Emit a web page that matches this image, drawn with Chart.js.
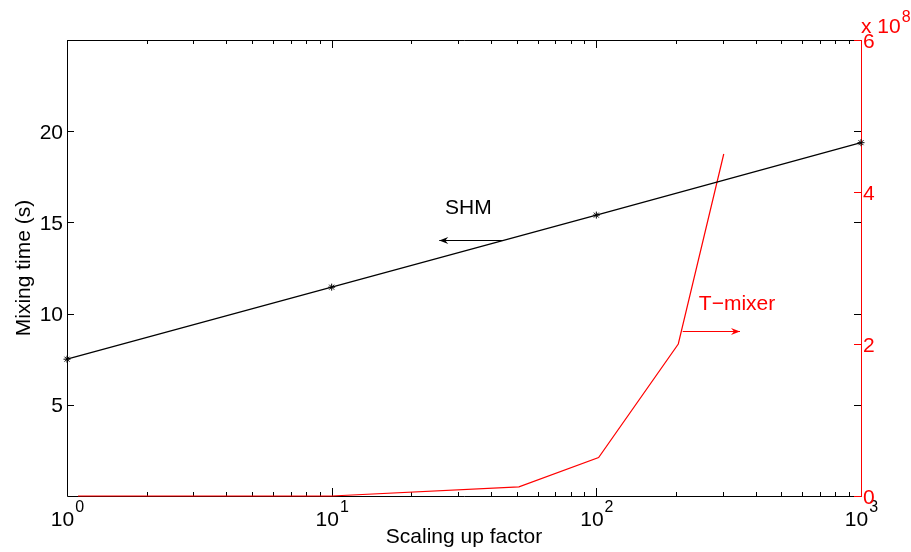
<!DOCTYPE html>
<html><head><meta charset="utf-8">
<script src="https://cdn.jsdelivr.net/npm/chart.js@4/dist/chart.umd.min.js"></script>
<style>html,body{margin:0;padding:0;background:#fff}#wrap{width:911px;height:552px;position:relative}</style>
</head><body><div id="wrap"><canvas id="c" width="911" height="552"></canvas></div>
<script>
// ---- data ----
const xTicks = [1, 10, 100, 1000];
const xTickExp = ['0', '1', '2', '3'];
const leftTicks = [5, 10, 15, 20];
const rightTicks = [0, 2e8, 4e8, 6e8];
const rightExp = '8';
const shmX = [1, 10, 100, 1000];
const shmY = [7.5, 11.45, 15.4, 19.37];
const tmixX = [1.1, 10, 51, 102, 204, 303];
const tmixY = [0, 0, 0.12e8, 0.505e8, 2.0e8, 4.5e8];
const xTitle = 'Scaling up factor';
const yTitle = 'Mixing time (s)';
const shmLabel = 'SHM';
const tmixLabel = 'T\u2212mixer';
// annotation anchors in data units
const shmText = {x: 26.8, y: 15.48};
const shmArrow = {x0: 44.4, x1: 25.5, y: 14.06};
const tmixText = {x: 244, y: 2.45e8};
const tmixArrow = {x0: 212, x1: 349, y: 2.17e8};

const FONT = '"Liberation Sans", Arial, Helvetica, sans-serif';
const RED = '#ff0000';

function arrow(ctx, x0, x1, y, color){
  ctx.save();
  ctx.strokeStyle = color; ctx.fillStyle = color; ctx.lineWidth = 1;
  ctx.beginPath(); ctx.moveTo(x0, y); ctx.lineTo(x1, y); ctx.stroke();
  const d = x1 > x0 ? 1 : -1;
  ctx.beginPath();
  ctx.moveTo(x1, y);
  ctx.lineTo(x1 - d*9, y - 3.5);
  ctx.lineTo(x1 - d*6, y);
  ctx.lineTo(x1 - d*9, y + 3.5);
  ctx.closePath(); ctx.fill();
  ctx.restore();
}

const framePlugin = {
  id: 'matlabFrame',
  beforeDatasetsDraw(chart){
    const ctx = chart.ctx, a = chart.chartArea;
    const sx = chart.scales.x, sy = chart.scales.y, sr = chart.scales.y2;
    ctx.save();
    ctx.lineWidth = 1;
    ctx.strokeStyle = '#000';
    ctx.beginPath();
    ctx.moveTo(a.right, a.top + 0.5); ctx.lineTo(a.left + 0.5, a.top + 0.5);
    ctx.lineTo(a.left + 0.5, a.bottom + 0.5); ctx.lineTo(a.right, a.bottom + 0.5);
    ctx.stroke();
    ctx.beginPath();
    for (let d = 0; d < 3; d++){
      for (let m = 1; m <= 10; m++){
        const v = Math.pow(10, d) * m;
        const px = Math.round(sx.getPixelForValue(v)) + 0.5;
        const len = (m === 1 || m === 10) ? 8 : 4;
        ctx.moveTo(px, a.bottom); ctx.lineTo(px, a.bottom - len);
        ctx.moveTo(px, a.top); ctx.lineTo(px, a.top + len);
      }
    }
    leftTicks.forEach(v => {
      const py = Math.round(sy.getPixelForValue(v)) + 0.5;
      ctx.moveTo(a.left, py); ctx.lineTo(a.left + 7, py);
      ctx.moveTo(a.right, py); ctx.lineTo(a.right - 7, py);
    });
    ctx.stroke();
    ctx.strokeStyle = RED;
    ctx.beginPath();
    ctx.moveTo(a.right + 0.5, a.top); ctx.lineTo(a.right + 0.5, a.bottom + 1);
    rightTicks.forEach(v => {
      const py = Math.round(sr.getPixelForValue(v)) + 0.5;
      ctx.moveTo(a.right, py); ctx.lineTo(a.right - 7, py);
    });
    ctx.stroke();
    ctx.restore();
  },
  afterDraw(chart){
    const ctx = chart.ctx, a = chart.chartArea;
    const sx = chart.scales.x, sy = chart.scales.y, sr = chart.scales.y2;
    const SUP = '16px ' + FONT, MAIN = '21px ' + FONT;
    ctx.save();
    ctx.textBaseline = 'alphabetic';
    xTicks.forEach((v, i) => {
      const px = sx.getPixelForValue(v);
      ctx.font = MAIN;
      const w1 = ctx.measureText('10').width;
      ctx.font = SUP;
      const w2 = ctx.measureText(xTickExp[i]).width;
      const x0 = px - (w1 + w2) / 2;
      ctx.fillStyle = '#000';
      ctx.font = MAIN;
      ctx.textAlign = 'left';
      ctx.fillText('10', x0, 526);
      ctx.font = SUP;
      ctx.fillText(xTickExp[i], x0 + w1 + 1, 512);
    });
    ctx.font = MAIN;
    ctx.textAlign = 'right';
    ctx.fillStyle = '#000';
    leftTicks.forEach(v => {
      ctx.fillText(String(v), a.left - 4, sy.getPixelForValue(v) + 7.5);
    });
    ctx.textAlign = 'left';
    ctx.fillStyle = RED;
    rightTicks.forEach(v => {
      ctx.fillText(String(v / 1e8), a.right + 2, sr.getPixelForValue(v) + 7.5);
    });
    ctx.fillText('x 10', a.right, 33);
    const wx = ctx.measureText('x 10').width;
    ctx.font = SUP;
    ctx.fillText(rightExp, a.right + wx + 1, 22);
    ctx.font = MAIN;
    ctx.fillStyle = '#000';
    ctx.textAlign = 'center';
    ctx.fillText(xTitle, (a.left + a.right) / 2, 543);
    ctx.save();
    ctx.translate(30, (a.top + a.bottom) / 2);
    ctx.rotate(-Math.PI / 2);
    ctx.fillText(yTitle, 0, 0);
    ctx.restore();
    ctx.textAlign = 'left';
    ctx.fillStyle = '#000';
    ctx.fillText(shmLabel, sx.getPixelForValue(shmText.x), sy.getPixelForValue(shmText.y));
    arrow(ctx, sx.getPixelForValue(shmArrow.x0), sx.getPixelForValue(shmArrow.x1), Math.round(sy.getPixelForValue(shmArrow.y)) + 0.5, '#000');
    ctx.fillStyle = RED;
    ctx.fillText(tmixLabel, sx.getPixelForValue(tmixText.x), sr.getPixelForValue(tmixText.y));
    arrow(ctx, sx.getPixelForValue(tmixArrow.x0), sx.getPixelForValue(tmixArrow.x1), Math.round(sr.getPixelForValue(tmixArrow.y)) + 0.5, RED);
    ctx.restore();
  }
};

new Chart(document.getElementById('c'), {
  type: 'line',
  data: {
    datasets: [
      {
        label: 'SHM',
        data: shmX.map((x, i) => ({x: x, y: shmY[i]})),
        yAxisID: 'y',
        borderColor: '#000', backgroundColor: '#000',
        borderWidth: 1.2,
        pointStyle: 'star', pointRadius: 3.5, pointBorderWidth: 1,
        pointBorderColor: '#000',
        tension: 0, clip: false
      },
      {
        label: 'T-mixer',
        data: tmixX.map((x, i) => ({x: x, y: tmixY[i]})),
        yAxisID: 'y2',
        borderColor: RED, backgroundColor: RED,
        borderWidth: 1.2, pointRadius: 0,
        tension: 0, clip: false
      }
    ]
  },
  options: {
    responsive: false,
    animation: false,
    events: [],
    layout: {padding: {top: 40, left: 0, right: 0, bottom: 0}},
    plugins: {legend: {display: false}, tooltip: {enabled: false}},
    scales: {
      x: {
        type: 'logarithmic', min: 1, max: 1000, position: 'bottom',
        grid: {display: false}, border: {display: false},
        ticks: {display: false},
        afterFit(s){ s.height = 56; }
      },
      y: {
        type: 'linear', min: 0, max: 25, position: 'left',
        grid: {display: false}, border: {display: false},
        ticks: {display: false},
        afterFit(s){ s.width = 67; }
      },
      y2: {
        type: 'linear', min: 0, max: 6e8, position: 'right',
        grid: {display: false}, border: {display: false},
        ticks: {display: false},
        afterFit(s){ s.width = 50; }
      }
    }
  },
  plugins: [framePlugin]
});
</script>
</body></html>
